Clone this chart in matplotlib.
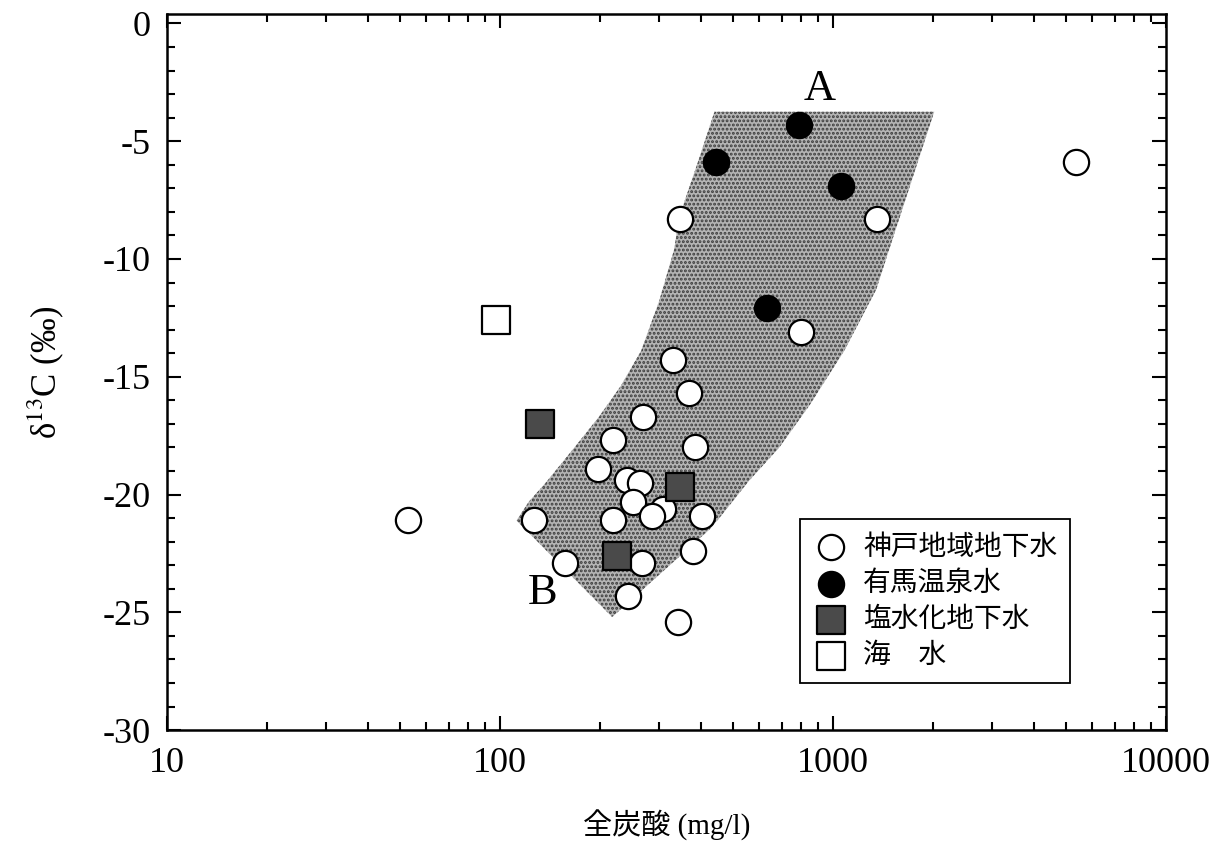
import numpy as np
import matplotlib
matplotlib.use("Agg")
import matplotlib.pyplot as plt
from matplotlib.ticker import LogLocator, MultipleLocator, FixedFormatter, FixedLocator

plt.rcParams["mathtext.fontset"] = "stix"
plt.rcParams["hatch.linewidth"] = 1.4

# data
kobe_x = [5370, 347, 1355, 801, 331, 370, 269, 385, 218, 197, 240, 263, 251, 308, 286,
          218, 404, 126, 53, 380, 157, 267, 242, 343]
kobe_y = [-5.9, -8.3, -8.3, -13.1, -14.3, -15.7, -16.7, -18.0, -17.7, -18.9, -19.4, -19.5,
          -20.3, -20.6, -20.9, -21.1, -20.9, -21.1, -21.1, -22.4, -22.9, -22.9, -24.3, -25.4]

arima_x = [791, 445, 1057, 634]
arima_y = [-4.3, -5.9, -6.9, -12.1]

salt_x = [132, 347, 225]
salt_y = [-17.0, -19.7, -22.6]

sea_x = [97]
sea_y = [-12.6]

# band A-B outline (left edge top->bottom, corner, right edge bottom->top)
band_x = [440, 390, 345, 333, 300, 265, 230, 198, 165, 137, 122, 112, 217, 424, 455, 560,
          689, 850, 1079, 1346, 1472, 1700, 2010]
band_y = [-3.75, -6.0, -8.2, -9.6, -11.8, -13.9, -15.4, -16.7, -18.1, -19.5, -20.3, -21.1,
          -25.2, -21.5, -21.0, -19.4, -18.0, -16.2, -13.9, -11.3, -9.6, -6.9, -3.75]

labels = ["神戸地域地下水", "有馬温泉水", "塩水化地下水", "海\u3000水"]

serif = ["Liberation Serif", "DejaVu Serif"]
cjk = ["Noto Sans CJK JP", "DejaVu Sans"]

fig = plt.figure(figsize=(12.12, 8.48), dpi=100)
ax = fig.add_axes([0.1378, 0.139, 0.8245, 0.8445])

ax.fill(band_x, band_y, facecolor="#b4b4b4", edgecolor="#3c3c3c", linewidth=0,
        hatch="....", zorder=1)

ax.scatter(kobe_x, kobe_y, s=330, facecolor="white", edgecolor="black", linewidth=1.6,
           zorder=3, label=labels[0])
ax.scatter(arima_x, arima_y, s=330, facecolor="black", edgecolor="black", linewidth=1.6,
           zorder=3, label=labels[1])
ax.scatter(salt_x, salt_y, s=400, marker="s", facecolor="#4a4a4a", edgecolor="black",
           linewidth=1.6, zorder=3, label=labels[2])
ax.scatter(sea_x, sea_y, s=400, marker="s", facecolor="white", edgecolor="black",
           linewidth=1.6, zorder=3, label=labels[3])

ax.text(908, -2.8, "A", fontsize=32, family=serif, ha="center", va="center")
ax.text(134, -24.2, "B", fontsize=32, family=serif, ha="center", va="center")

ax.set_xscale("log")
ax.set_xlim(10, 10000)
ax.set_ylim(-30, 0.4)

ax.xaxis.set_major_locator(FixedLocator([10, 100, 1000, 10000]))
ax.xaxis.set_major_formatter(FixedFormatter(["10", "100", "1000", "10000"]))
ax.xaxis.set_minor_locator(LogLocator(base=10, subs=np.arange(2, 10)))
ax.xaxis.set_minor_formatter(plt.NullFormatter())
ax.yaxis.set_minor_locator(MultipleLocator(1))
ax.set_yticks([0, -5, -10, -15, -20, -25, -30])
ax.set_yticklabels(["0", "-5", "-10", "-15", "-20", "-25", "-30"])

ax.tick_params(which="both", direction="in", top=True, right=True, width=1.5)
ax.tick_params(which="major", length=10, labelsize=26, pad=12)
ax.tick_params(which="minor", length=6)
for lab in ax.get_xticklabels() + ax.get_yticklabels():
    lab.set_family(serif)
for sp in ax.spines.values():
    sp.set_linewidth(1.8)

ax.set_xlabel("全炭酸 (mg/l)", fontsize=21, family=["Liberation Serif", "Noto Sans CJK JP"],
              labelpad=22)
ax.set_ylabel("δ$^{13}$C (‰)", fontsize=25, family=serif, labelpad=26)

leg = ax.legend(loc="lower left", bbox_to_anchor=(0.62, 0.047), prop={"family": cjk, "size": 20},
                frameon=True, fancybox=False, edgecolor="black", framealpha=1,
                handletextpad=0.5, labelspacing=0.22, borderpad=0.45, markerscale=1.0,
                handlelength=1.3)
leg.get_frame().set_linewidth(1.3)

fig.savefig("out.png", dpi=100)
